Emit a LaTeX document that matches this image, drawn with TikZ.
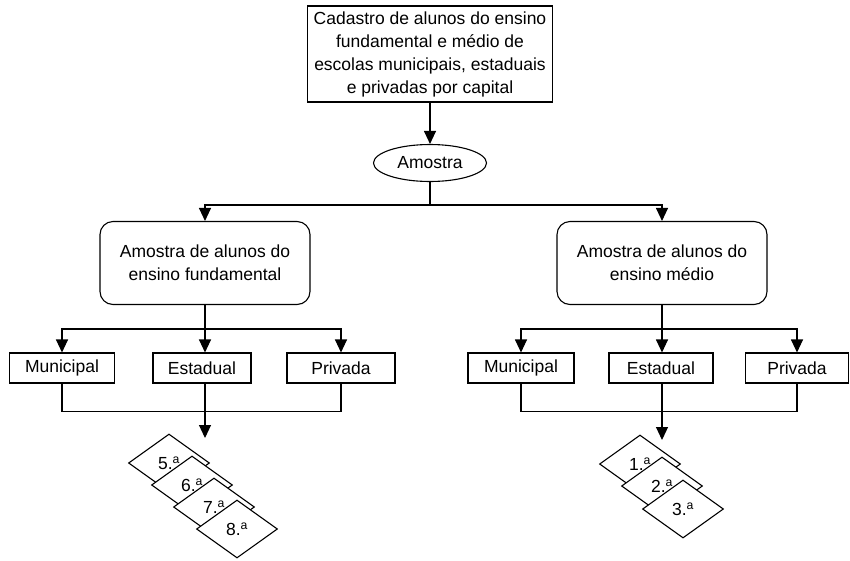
\documentclass[tikz,border=0pt]{standalone}
\usepackage{fontspec}
\setmainfont{Liberation Sans}
\usetikzlibrary{arrows.meta,shapes.geometric,calc}
\begin{document}
\begin{tikzpicture}[x=1pt,y=-1pt,
  line width=1.1pt,
  every node/.style={font=\fontsize{17.5}{23}\selectfont, align=center, inner sep=0pt},
  sqbox/.style={draw, rectangle, fill=white},
  rbox/.style={draw, rectangle, rounded corners=13pt, minimum width=210pt, minimum height=83pt},
  oval/.style={draw, ellipse, minimum width=113pt, minimum height=37pt},
  card/.style={draw, diamond, fill=white, minimum width=81pt, minimum height=58pt},
  arr/.style={-{Triangle[length=13pt,width=12pt]}}
]
\useasboundingbox (0,0) rectangle (850,560);

% top
\node[sqbox, minimum width=245pt, minimum height=96pt] (cad) at (430,54)
  {Cadastro de alunos do ensino\\fundamental e médio de\\escolas municipais, estaduais\\e privadas por capital};
\node[oval] (amo) at (430,163) {Amostra};
\draw[arr] (cad.south) -- (amo.north);

\node[rbox] (fund) at (205,263) {Amostra de alunos do\\ensino fundamental};
\node[rbox] (med) at (662,263) {Amostra de alunos do\\ensino médio};
\coordinate (j) at (430,205);
\draw (amo.south) -- (j);
\draw[arr] (j) -| (fund.north);
\draw[arr] (j) -| (med.north);

% left group
\node[sqbox, minimum width=105pt, minimum height=30pt] (lmun) at (62,368) {Municipal};
\node[sqbox, minimum width=98pt, minimum height=30pt] (lest) at (202,368) {Estadual};
\node[sqbox, minimum width=108pt, minimum height=30pt] (lpri) at (341,368) {Privada};
\coordinate (lj) at (205,329);
\draw (fund.south) -- (lj);
\draw[arr] (lj) -| (lmun.north);
\draw[arr] (lj) -- (lj |- lest.north);
\draw[arr] (lj) -| (lpri.north);
\draw (lmun.south) -- ++(0,28) -| (lpri.south);
\coordinate (ltip) at (205,438);
\draw[arr] (lest.south -| ltip) -- (ltip);

\node[card] (c5) at (169,463) {5.\textsuperscript{a}};
\node[card] (c6) at (192,485) {6.\textsuperscript{a}};
\node[card] (c7) at (214,507) {7.\textsuperscript{a}};
\node[card] (c8) at (237,529) {8.\textsuperscript{a}};

% right group
\node[sqbox, minimum width=106pt, minimum height=30pt] (rmun) at (521,368) {Municipal};
\node[sqbox, minimum width=104pt, minimum height=30pt] (rest) at (661,368) {Estadual};
\node[sqbox, minimum width=103pt, minimum height=30pt] (rpri) at (797,368) {Privada};
\coordinate (rj) at (662,329);
\draw (med.south) -- (rj);
\draw[arr] (rj) -| (rmun.north);
\draw[arr] (rj) -- (rj |- rest.north);
\draw[arr] (rj) -| (rpri.north);
\draw (rmun.south) -- ++(0,28) -| (rpri.south);
\coordinate (rtip) at (662,440);
\draw[arr] (rest.south -| rtip) -- (rtip);

\node[card] (d1) at (640,464) {1.\textsuperscript{a}};
\node[card] (d2) at (662,486) {2.\textsuperscript{a}};
\node[card] (d3) at (683,509) {3.\textsuperscript{a}};
\end{tikzpicture}
\end{document}
